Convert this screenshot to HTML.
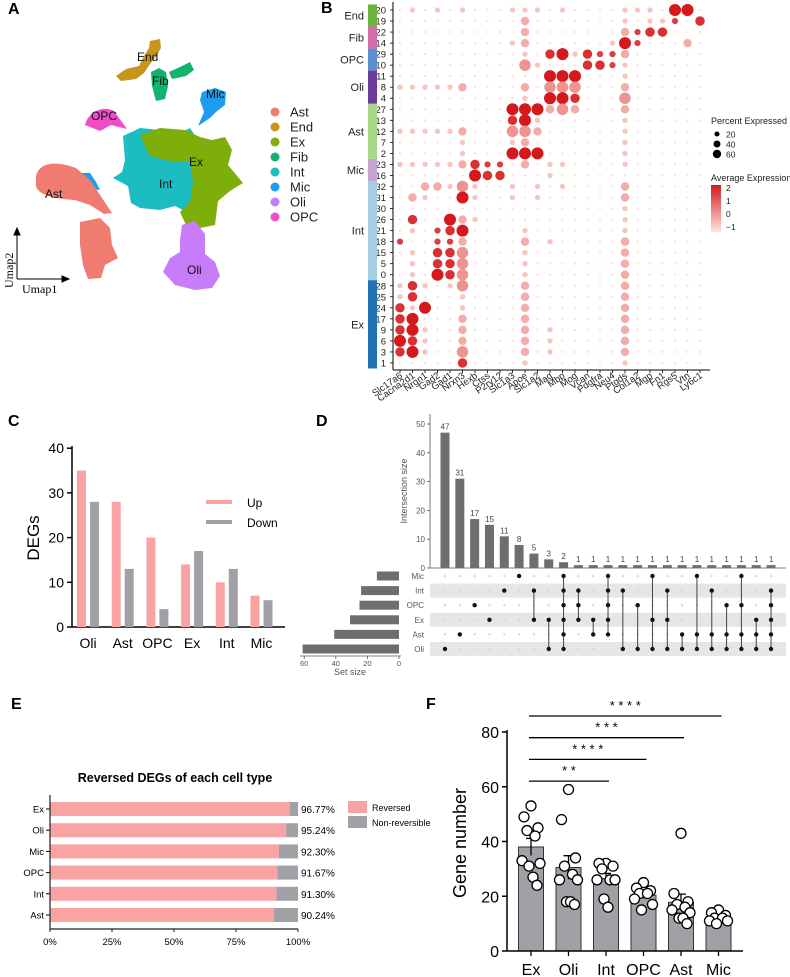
<!DOCTYPE html>
<html><head><meta charset="utf-8">
<style>
html,body{margin:0;padding:0;background:#fff;}
svg{display:block;font-family:"Liberation Sans",Arial,sans-serif;}
</style></head>
<body>
<svg id="fig" width="790" height="977" viewBox="0 0 790 977" xmlns="http://www.w3.org/2000/svg">
<g font-weight="bold" font-size="16" fill="#000">
<text x="8" y="14">A</text>
<text x="321" y="13">B</text>
<text x="8" y="426">C</text>
<text x="316" y="426">D</text>
<text x="11" y="709">E</text>
<text x="426" y="709">F</text>
</g>

<g id="umap">
<path fill="#C8951C" d="M116,76 L126,69 L139,66 L144,56 L149,48 L150,41 L160,39 L161,48 L155,58 L150,64 L144,73 L136,79 L121,81 Z"/>
<path fill="#12B36B" d="M151,72 L159,68 L166,72 L168,86 L165,99 L156,101 L152,86 Z M169,72 L180,67 L190,62 L194,70 L186,76 L172,79 Z"/>
<path fill="#1E9DF0" d="M202,92 L215,88 L226,92 L225,105 L216,112 L210,118 L198,126 L204,112 L200,100 Z M72,173 L90,173 L96,182 L100,190 L92,189 L84,180 Z"/>
<path fill="#F04BC9" d="M85,125 C88,112 103,105 114,111 L127,129 L111,125 L100,131 Z"/>
<path fill="#1BBDC2" d="M123,136 L140,128 L160,130 L176,135 L190,128 L198,140 L195,175 L196,205 L185,211 L175,206 L160,210 L140,208 L131,203 L128,186 L113,178 L122,172 L125,160 Z"/>
<path fill="#7DAE0A" d="M140,135 L160,128 L185,130 L200,137 L212,140 L225,137 L232,150 L228,165 L243,183 L230,191 L218,201 L215,225 L200,228 L186,225 L180,212 L190,202 L193,182 L190,162 L170,161 L150,156 L145,146 Z"/>
<path fill="#C77CFA" d="M182,225 L195,221 L205,234 L205,254 L215,262 L220,276 L212,288 L195,290 L175,285 L163,272 L170,258 L180,252 L180,240 Z"/>
<path fill="#F07B71" d="M36,176 C40,160 60,162 76,168 L90,180 L100,195 L112,213 L104,214 L90,205 L75,200 C58,199 38,196 36,186 Z M80,222 L100,218 L110,228 L112,245 L118,258 L105,265 L101,278 L88,279 L83,265 L80,245 Z"/>
<g font-size="12" fill="#111">
<text x="137" y="61">End</text>
<text x="152" y="85">Fib</text>
<text x="206" y="98">Mic</text>
<text x="91" y="120">OPC</text>
<text x="45" y="198">Ast</text>
<text x="159" y="188">Int</text>
<text x="189" y="166">Ex</text>
<text x="187" y="274">Oli</text>
</g>
<g stroke="#000" stroke-width="1">
<line x1="17" y1="279" x2="17" y2="231"/><line x1="17" y1="279" x2="66" y2="279"/>
<path d="M14,235 L17,228 L20,235 Z M62,276 L69,279 L62,282 Z" fill="#000"/>
</g>
<text transform="translate(13,288) rotate(-90)" font-family="Liberation Serif,serif" font-size="12">Umap2</text>
<text x="22" y="293" font-family="Liberation Serif,serif" font-size="12">Umap1</text>
<g id="umapLegend"></g>
</g>

<g id="dotplot"></g>
<g id="degs"></g>
<g id="upset"></g>
<g id="reversed"></g>
<g id="genenum"></g>
</svg>
<script>
const NS="http://www.w3.org/2000/svg";
function mk(parent,tag,attrs,text){const e=document.createElementNS(NS,tag);for(const k in attrs)e.setAttribute(k,attrs[k]);if(text!==undefined)e.textContent=text;parent.appendChild(e);return e;}

const umapTypes=["Ast","End","Ex","Fib","Int","Mic","Oli","OPC"];
const umapColors=["#F07B71","#C8951C","#7DAE0A","#12B36B","#1BBDC2","#1E9DF0","#C77CFA","#F04BC9"];
{const g=document.getElementById("umapLegend");
umapTypes.forEach((t,i)=>{const y=112+i*15;
 const c=mk(g,"circle",{cx:275,cy:y,r:4.5,fill:umapColors[i]});
 
 
 const tx=mk(g,"text",{x:290,y:y+4.5,"font-size":13,fill:"#222"},t);
 
 
});}

const dpGenes=["Slc17a6","Cacna2d1","Nrgn1","Gad2","Gad1","Nrxn3","Hexb","Ctss","P2ry12","Slc1a3","Apoe","Slc1a2","Mag","Mbp","Mog","Vcan","Pdgfra","Neu4","Ptgds","Col1a2","Mgp","Fn1","Rgs5","Vtn","Ly6c1"];
const dpClusters=["20","19","22","14","29","10","11","8","4","27","13","12","7","2","23","16","32","31","30","26","21","18","15","5","0","28","25","24","17","9","6","3","1"];
const dpGroups=["End","Fib","OPC","Oli","Ast","Mic","Int","Ex"];
const dpGroupSizes=[2,2,2,3,5,2,9,8];
const dpGroupColors=["#6DB33F","#D46DA8","#5E8FD0","#6A3D9A","#A8D887","#C3A6D0","#A6CDE3","#2271B0"];
const dpCodes=[
".a.a.a...aaa.a....aaa.ff.",
"..........b.......a.aad.e",
"..........b.......bdee...",
".........ab......afd...b.",
"..........a.efaeddb......",
"..........ca...eeda......",
"............fff...a......",
"aaaaab....b.ccc...b......",
"..........a.ffe...c......",
".........fffbcb...b......",
".........efa......a......",
"aaaaab...ccb......a......",
".....a...ab.......a......",
".....a...fff......a......",
"aaaaabedd.b.aa....a......",
"......fee...a............",
"..bbaca..a.a.a....b......",
".ba..fa..a.a......b......",
"..................a......",
".e..fba...........a......",
".a.def....a.......a......",
"d..ddb....b.a.....b......",
".a.eec....a.......b......",
".a.eec....a.......b......",
".a.fec....a.......b......",
"aea.ac....b.......b......",
"ae...a....b.......b......",
"eaf..a....b.......b......",
"ef...b....b.......b......",
"efa..b....b.a.....b......",
"fea..b....b.a.....b......",
"efa..c....b.a.....b......",
".....e....a.......a......"];
const dpCodeKeys=[".","a","b","c","d","e","f"];
const dpPct=[1,10,28,55,14,36,60];
const dpExpr=[-1,-0.6,-0.2,0.2,1.6,1.8,2.2];
{
const g=document.getElementById("dotplot");
const x0=400,dx=12.5,y0=10,dy=11.03;
const xS=i=>x0+i*dx, yS=j=>y0+j*dy;
const rS=p=>0.4+Math.sqrt(p/60)*5.6;
function col(e){const t=Math.max(0,Math.min(1,(e+1)/3.2));const a=[252,222,214],b=[212,24,28];return `rgb(${a.map((v,k)=>Math.round(v+(b[k]-v)*t)).join(",")})`;}
const ax=mk(g,"line",{x1:393,y1:2,x2:393,y2:370,stroke:"#000","stroke-width":1});

const axx=mk(g,"line",{x1:393,y1:370,x2:710,y2:370,stroke:"#000","stroke-width":1});

dpClusters.forEach((c,j)=>{
 const t=mk(g,"text",{x:386,y:yS(j)+3.5,"font-size":9.5,"text-anchor":"end",fill:"#222"},c);
 
 mk(g,"line",{x1:390,y1:yS(j),x2:393,y2:yS(j),stroke:"#000","stroke-width":0.8});
 const row=dpCodes[j];
 for(let i=0;i<dpGenes.length;i++){const k=dpCodeKeys.indexOf(row[i]);if(k<0)continue;
  const d=mk(g,"circle",{cx:xS(i),cy:yS(j),r:rS(dpPct[k]),fill:col(dpExpr[k])});
  }
});
let r=0;
dpGroups.forEach((gr,k)=>{const n=dpGroupSizes[k];const top=yS(r)-dy/2,h=n*dy;
 const b=mk(g,"rect",{x:368,y:top,width:9,height:h,fill:dpGroupColors[k]});
 
 const t=mk(g,"text",{x:364,y:top+h/2+4,"font-size":11,"text-anchor":"end",fill:"#222"},gr);
 
 r+=n;});
dpGenes.forEach((gn,i)=>{
 mk(g,"line",{x1:xS(i),y1:370,x2:xS(i),y2:373,stroke:"#000","stroke-width":0.8});
 const t=mk(g,"text",{transform:`translate(${xS(i)+3},${377}) rotate(-35)`,"font-size":9.5,"text-anchor":"end",fill:"#222"},gn);
 });
const lg=mk(g,"g",{});

mk(lg,"text",{x:711,y:124,"font-size":9,fill:"#222"},"Percent Expressed");
[20,40,60].forEach((p,i)=>{mk(lg,"circle",{cx:717,cy:134+i*10,r:rS(p)*0.7,fill:"#000"});mk(lg,"text",{x:726,y:137.5+i*10,"font-size":8.5,fill:"#222"},String(p));});
mk(lg,"text",{x:711,y:181,"font-size":9,fill:"#222"},"Average Expression");
const grad=mk(g,"defs",{});const lgd=mk(grad,"linearGradient",{id:"avgGrad",x1:0,y1:0,x2:0,y2:1});
mk(lgd,"stop",{offset:"0%","stop-color":"#D4181C"});mk(lgd,"stop",{offset:"100%","stop-color":"#FCE6E0"});
mk(lg,"rect",{x:711,y:185,width:10,height:47,fill:"url(#avgGrad)"});
["2","1","0","\u22121"].forEach((s,i)=>mk(lg,"text",{x:726,y:191+i*13,"font-size":8.5,fill:"#222"},s));
}

const degCats=["Oli","Ast","OPC","Ex","Int","Mic"];
const degUp=[35,28,20,14,10,7];
const degDown=[28,13,4,17,13,6];
const degTicks=[0,10,20,30,40];
{
const g=document.getElementById("degs");
const yS=v=>627-v*4.47, gx=i=>77+i*34.7;
const yl=mk(g,"line",{x1:72,y1:446,x2:72,y2:627,stroke:"#000","stroke-width":1.5});

const xl=mk(g,"line",{x1:72,y1:627,x2:285,y2:627,stroke:"#000","stroke-width":1.5});

degTicks.forEach(t=>{mk(g,"line",{x1:67,y1:yS(t),x2:72,y2:yS(t),stroke:"#000","stroke-width":1.5});
 const tx=mk(g,"text",{x:64,y:yS(t)+5,"font-size":14,"text-anchor":"end"},String(t));
 });
degCats.forEach((c,i)=>{
 const u=mk(g,"rect",{x:gx(i),y:yS(degUp[i]),width:9,height:627-yS(degUp[i]),fill:"#F9A3A3"});
 
 const d=mk(g,"rect",{x:gx(i)+13,y:yS(degDown[i]),width:9,height:627-yS(degDown[i]),fill:"#A0A0A6"});
 
 const t=mk(g,"text",{x:gx(i)+11,y:648,"font-size":14,"text-anchor":"middle"},c);
 });
const yt=mk(g,"text",{transform:"translate(39,538) rotate(-90)","font-size":17,"text-anchor":"middle"},"DEGs");

const l1=mk(g,"line",{x1:206,y1:502,x2:232,y2:502,stroke:"#F9A3A3","stroke-width":4});

const l2=mk(g,"line",{x1:206,y1:522,x2:232,y2:522,stroke:"#A0A0A6","stroke-width":4});

const t1=mk(g,"text",{x:247,y:507,"font-size":12},"Up");
const t2=mk(g,"text",{x:247,y:527,"font-size":12},"Down");
}

const upSets=["Mic","Int","OPC","Ex","Ast","Oli"];
const upSetSizes=[14,24,25,31,41,61];
const upSizes=[47,31,17,15,11,8,5,3,2,1,1,1,1,1,1,1,1,1,1,1,1,1,1];
const upMembers=[["Oli"],["Ast"],["OPC"],["Ex"],["Int"],["Mic"],["Int","Ex"],["Ex","Oli"],["Mic","Int","OPC","Ex","Ast","Oli"],["Int","OPC","Ex"],["Ex","Ast"],["Mic","Int","OPC","Ex","Ast"],["Int","Oli"],["OPC","Oli"],["Mic","Ex","Oli"],["Int","Ex","Oli"],["Ast","Oli"],["Mic","Ast","Oli"],["Int","Ast","Oli"],["OPC","Ast","Oli"],["Mic","OPC","Ast","Oli"],["Ex","Ast","Oli"],["Int","OPC","Ex","Ast","Oli"]];
const upTicks=[0,10,20,30,40,50];
const upSetTicks=[60,40,20,0];
{
const g=document.getElementById("upset");
const yS=v=>568-v*2.88, xS=i=>445+i*14.82, rowY=k=>576+k*14.6, sx=v=>399-v*1.58;
[1,3,5].forEach(k=>{const b=mk(g,"rect",{x:430,y:rowY(k)-7,width:356,height:14,fill:"#E6E6E6"});
 });
mk(g,"line",{x1:430,y1:414,x2:430,y2:568,stroke:"#555","stroke-width":0.8});
mk(g,"line",{x1:430,y1:568,x2:786,y2:568,stroke:"#555","stroke-width":0.8});
upTicks.forEach(t=>{mk(g,"line",{x1:427,y1:yS(t),x2:430,y2:yS(t),stroke:"#555","stroke-width":0.8});
 const tx=mk(g,"text",{x:425,y:yS(t)+3,"font-size":8,"text-anchor":"end",fill:"#555"},String(t));
 });
const yt=mk(g,"text",{transform:"translate(407,491) rotate(-90)","font-size":9,"text-anchor":"middle",fill:"#555"},"Intersection size");

upSizes.forEach((v,i)=>{
 const b=mk(g,"rect",{x:xS(i)-4.5,y:yS(v),width:9,height:568-yS(v),fill:"#6E6E6E"});
 
 const t=mk(g,"text",{x:xS(i),y:yS(v)-3,"font-size":8,"text-anchor":"middle",fill:"#444"},String(v));
 
 const mem=upMembers[i].map(s=>upSets.indexOf(s));
 upSets.forEach((s,k)=>{if(!mem.includes(k)){mk(g,"circle",{cx:xS(i),cy:rowY(k),r:1.2,fill:"#D8D8D8"});}});
 if(mem.length>1){const l=mk(g,"line",{x1:xS(i),y1:rowY(Math.min(...mem)),x2:xS(i),y2:rowY(Math.max(...mem)),stroke:"#444","stroke-width":1});
  }
 mem.forEach(k=>{const d=mk(g,"circle",{cx:xS(i),cy:rowY(k),r:2.2,fill:"#111"});
  });
});
upSets.forEach((s,k)=>{
 const t=mk(g,"text",{x:424,y:rowY(k)+3,"font-size":8,"text-anchor":"end",fill:"#555"},s);
 
 const b=mk(g,"rect",{x:sx(upSetSizes[k]),y:rowY(k)-4.5,width:399-sx(upSetSizes[k]),height:9,fill:"#6E6E6E"});
 });
mk(g,"line",{x1:300,y1:656,x2:401,y2:656,stroke:"#555","stroke-width":0.8});
upSetTicks.forEach(t=>{mk(g,"line",{x1:sx(t),y1:656,x2:sx(t),y2:659,stroke:"#555","stroke-width":0.8});
 const tx=mk(g,"text",{x:sx(t),y:666,"font-size":7.5,"text-anchor":"middle",fill:"#555"},String(t));
 });
const st=mk(g,"text",{x:350,y:675,"font-size":9,"text-anchor":"middle",fill:"#555"},"Set size");

}

const revCats=["Ex","Oli","Mic","OPC","Int","Ast"];
const revPct=[96.77,95.24,92.30,91.67,91.30,90.24];
const revTicks=[0,25,50,75,100];
{
const g=document.getElementById("reversed");
const xS=v=>50+v*2.48, yS=i=>809+i*21.2;
const tt=mk(g,"text",{x:175,y:782,"font-size":12.5,"font-weight":"bold","text-anchor":"middle"},"Reversed DEGs of each cell type");

revCats.forEach((c,i)=>{
 const r=mk(g,"rect",{x:xS(0),y:yS(i)-7,width:xS(revPct[i])-xS(0),height:14,fill:"#F9A3A3"});
 
 const n=mk(g,"rect",{x:xS(revPct[i]),y:yS(i)-7,width:xS(100)-xS(revPct[i]),height:14,fill:"#A0A0A6"});
 
 mk(g,"line",{x1:46,y1:yS(i),x2:50,y2:yS(i),stroke:"#000","stroke-width":1});
 const t=mk(g,"text",{x:44,y:yS(i)+3.5,"font-size":9.5,"text-anchor":"end"},c);
 
 const p=mk(g,"text",{x:301,y:yS(i)+4,"font-size":10},revPct[i].toFixed(2)+"%");
 });
mk(g,"line",{x1:50,y1:795,x2:50,y2:930,stroke:"#222","stroke-width":1.2});
mk(g,"line",{x1:50,y1:929,x2:298,y2:929,stroke:"#222","stroke-width":1.2});
revTicks.forEach(t=>{mk(g,"line",{x1:xS(t),y1:929,x2:xS(t),y2:932,stroke:"#222","stroke-width":1});
 const tx=mk(g,"text",{x:xS(t),y:945,"font-size":9.5,"text-anchor":"middle"},t+"%");
 });
const b1=mk(g,"rect",{x:348,y:801,width:19,height:12,fill:"#F9A3A3"});
const b2=mk(g,"rect",{x:348,y:816,width:19,height:12,fill:"#A0A0A6"});
const a1=mk(g,"text",{x:372,y:811,"font-size":9},"Reversed");
const a2=mk(g,"text",{x:372,y:826,"font-size":9},"Non-reversible");
}

const gnCats=["Ex","Oli","Int","OPC","Ast","Mic"];
const gnEx=[53,49,45,44,42,33,32,31,27,24];
const gnOli=[59,48,34,31,28,26,26,18,18,17];
const gnInt=[32,32,31,30,26,26,26,19,16];
const gnOPC=[25,23,22,21,21,19,17,15];
const gnAst=[43,21,18,17,16,15,14,12,12,10];
const gnMic=[15,14,13,12,12,11,11,10];
const gnTicks=[0,20,40,60,80];
const gnSig=["* * * *","* * *","* * * *","* *"];
const gnSigTo=[5,4,3,2];
{
const g=document.getElementById("genenum");
const series=[gnEx,gnOli,gnInt,gnOPC,gnAst,gnMic];
const yS=v=>951-v*2.7375, xS=i=>531+i*37.5;
const jit=[0,-7,7,-4,4,-9,9,-2,2,6,-6,0];
series.forEach((arr,i)=>{
 const m=arr.reduce((a,b)=>a+b,0)/arr.length;
 const sd=Math.sqrt(arr.reduce((a,b)=>a+(b-m)*(b-m),0)/(arr.length-1));const se=sd/Math.sqrt(arr.length);
 const b=mk(g,"rect",{x:xS(i)-12.5,y:yS(m),width:25,height:951-yS(m),fill:"#A0A0A6",stroke:"#333","stroke-width":1});
 
 const e=mk(g,"path",{d:`M${xS(i)},${yS(m-se)} L${xS(i)},${yS(m+se)} M${xS(i)-5},${yS(m+se)} L${xS(i)+5},${yS(m+se)}`,stroke:"#000","stroke-width":1.3,fill:"none"});
 
 arr.forEach((v,k)=>{const p=mk(g,"circle",{cx:xS(i)+jit[k%jit.length],cy:yS(v),r:5,fill:"#fff",stroke:"#000","stroke-width":1.3});
  });
 mk(g,"line",{x1:xS(i),y1:951,x2:xS(i),y2:956,stroke:"#000","stroke-width":1.3});
 const t=mk(g,"text",{x:xS(i),y:975,"font-size":16,"text-anchor":"middle"},gnCats[i]);
 
});
mk(g,"line",{x1:507,y1:730,x2:507,y2:951,stroke:"#000","stroke-width":1.5});
mk(g,"line",{x1:507,y1:951,x2:743,y2:951,stroke:"#000","stroke-width":1.5});
gnTicks.forEach(t=>{mk(g,"line",{x1:502,y1:yS(t),x2:507,y2:yS(t),stroke:"#000","stroke-width":1.5});
 const tx=mk(g,"text",{x:499,y:yS(t)+6,"font-size":16,"text-anchor":"end"},String(t));
 });
const yt=mk(g,"text",{transform:"translate(466,843) rotate(-90)","font-size":18,"text-anchor":"middle"},"Gene number");

gnSig.forEach((s,k)=>{const y=716+k*21.7;const x2=xS(gnSigTo[k])+3;
 const l=mk(g,"line",{x1:529,y1:y,x2:x2,y2:y,stroke:"#000","stroke-width":1.3});
 
 const t=mk(g,"text",{x:(529+x2)/2,y:y-6,"font-size":13,"text-anchor":"middle"},s);
 });
}
</script>
</body></html>
